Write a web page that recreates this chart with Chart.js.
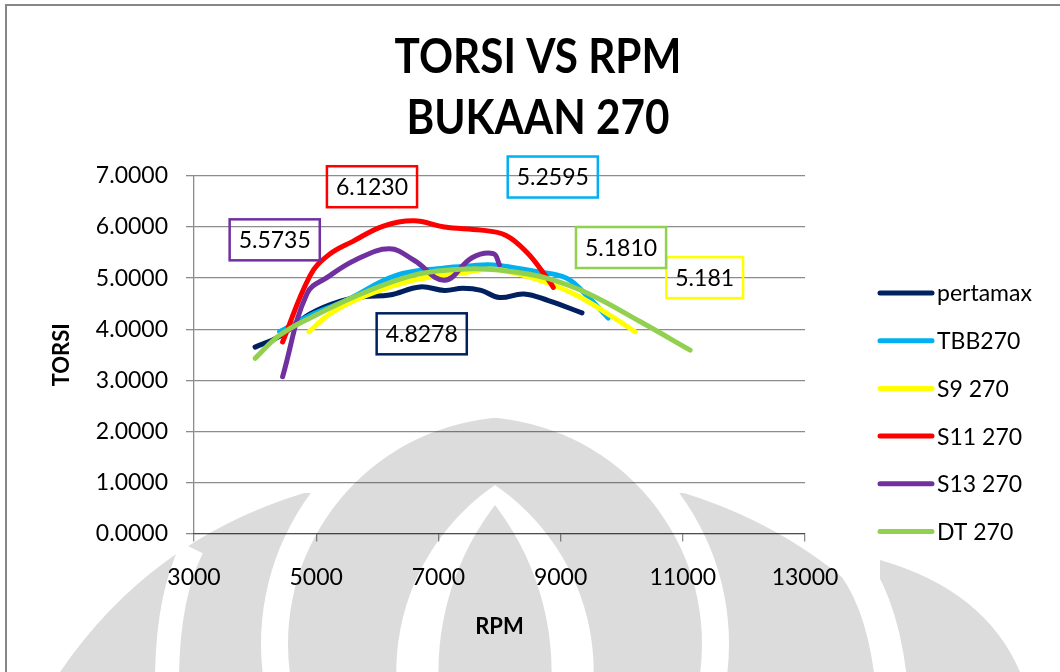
<!DOCTYPE html>
<html>
<head>
<meta charset="utf-8">
<title>Torsi vs RPM</title>
<script src="https://cdn.jsdelivr.net/npm/chart.js@4.4.1/dist/chart.umd.min.js"></script>
<style>
  html, body { margin: 0; padding: 0; background: #fff; }
  canvas { display: block; }
</style>
</head>
<body>
<canvas id="torsiChart" width="1060" height="672"></canvas>
<script>
// series names and colours
const seriesNames = ['pertamax', 'TBB270', 'S9 270', 'S11 270', 'S13 270', 'DT 270'];
const seriesColors = ['#002060', '#00B0F0', '#FFFF00', '#FF0000', '#7030A0', '#92D050'];

// measured torque (torsi) against engine speed (rpm)
const rpmPertamax = [4000, 4400, 4900, 5400, 5800, 6200, 6700, 7100, 7400, 7700, 8000, 8400, 8800, 9350];
const torsiPertamax = [3.65, 3.86, 4.30, 4.55, 4.64, 4.67, 4.8278, 4.76, 4.80, 4.76, 4.62, 4.69, 4.56, 4.32];

const rpmTBB = [4400, 4900, 5500, 6300, 7100, 7500, 7900, 8600, 9100, 9450, 9780];
const torsiTBB = [3.95, 4.27, 4.57, 5.05, 5.20, 5.24, 5.2595, 5.13, 5.00, 4.63, 4.22];

const rpmS9 = [4880, 5250, 5800, 6600, 7400, 7850, 8250, 8800, 9300, 9850, 10220];
const torsiS9 = [3.95, 4.32, 4.65, 4.96, 5.10, 5.181, 5.10, 4.90, 4.64, 4.24, 3.95];

const rpmS11 = [4450, 4900, 5200, 5600, 6100, 6600, 7100, 7700, 8100, 8450, 8750, 8880];
const torsiS11 = [3.75, 5.05, 5.45, 5.72, 6.02, 6.1230, 6.00, 5.94, 5.84, 5.50, 5.05, 4.82];

const rpmS13 = [4450, 4850, 5200, 5650, 6200, 6600, 7100, 7550, 7900, 8000];
const torsiS13 = [3.07, 4.70, 5.03, 5.36, 5.5735, 5.35, 4.96, 5.40, 5.48, 5.26];

const rpmDT = [4000, 4400, 4950, 5750, 6600, 7300, 7750, 8250, 8800, 9450, 10300, 11120];
const torsiDT = [3.43, 3.88, 4.25, 4.70, 5.06, 5.17, 5.1810, 5.12, 4.99, 4.70, 4.15, 3.59];

const rpmSeries = [rpmPertamax, rpmTBB, rpmS9, rpmS11, rpmS13, rpmDT];
const torsiSeries = [torsiPertamax, torsiTBB, torsiS9, torsiS11, torsiS13, torsiDT];

// peak value callouts: decimals shown and where each box sits (rpm, torsi)
const peakDecimals = [4, 4, 3, 4, 4, 4];
const peakBoxAt = [[6727, 3.91], [8872, 6.98], [11358, 5.01], [5913, 6.79], [4321, 5.75], [9989, 5.60]];

// axis ticks
const rpmTicks = [3000, 5000, 7000, 9000, 11000, 13000];
const torsiTicks = [0, 1, 2, 3, 4, 5, 6, 7];

const titleLines = ['TORSI VS RPM', 'BUKAAN 270'];

const FONT = 'Lato, "Open Sans", sans-serif';
const gridColor = 'rgba(0,0,0,0.45)';
const markGray = '#dcdcdc';

const datasets = seriesNames.map((name, i) => ({
    label: name,
    data: rpmSeries[i].map((r, k) => ({ x: r, y: torsiSeries[i][k] })),
    borderColor: seriesColors[i],
    backgroundColor: seriesColors[i],
    borderWidth: 5,
    borderCapStyle: 'round',
    borderJoinStyle: 'round',
    showLine: true,
    pointRadius: 0,
    tension: 0.4,
    order: seriesNames.length - i
}));

// lens = overlap of two equal discs mirrored about cx
function lens(c, cx, cy, d, r) {
    c.save();
    c.beginPath();
    c.arc(cx + d, cy, r, 0, Math.PI * 2);
    c.clip();
    c.beginPath();
    c.arc(cx - d, cy, r, 0, Math.PI * 2);
    c.fill();
    c.restore();
}

// faint emblem behind the plot
function drawEmblem(c) {
    const cx = 495;
    c.fillStyle = markGray;
    // wings
    c.beginPath();
    c.moveTo(304, 493);
    c.quadraticCurveTo(150, 540, 60, 672);
    c.lineTo(930, 672);
    c.quadraticCurveTo(836, 540, 684, 493);
    c.closePath();
    c.fill();
    // outer right piece
    c.beginPath();
    c.moveTo(880, 560);
    c.quadraticCurveTo(985, 590, 1020, 672);
    c.lineTo(880, 672);
    c.closePath();
    c.fill();

    // seams cut between the pieces
    c.strokeStyle = '#fff';
    c.lineWidth = 24;
    c.beginPath();
    c.moveTo(192, 548);
    c.quadraticCurveTo(166, 600, 167, 690);
    c.stroke();
    c.lineWidth = 32;
    c.beginPath();
    c.moveTo(846, 556);
    c.quadraticCurveTo(884, 600, 892, 690);
    c.stroke();

    c.fillStyle = '#fff';
    lens(c, cx, 643.9, 19.8, 253.8);
    c.fillStyle = markGray;
    lens(c, cx, 643.9, 19.8, 226.8);
    c.fillStyle = '#fff';
    lens(c, cx, 672, 127.7, 226.4);
    c.fillStyle = markGray;
    lens(c, cx, 672, 218, 274.6);
}

const backdrop = {
    id: 'backdrop',
    beforeDraw(chart) {
        const c = chart.ctx;
        c.save();
        c.fillStyle = '#fff';
        c.fillRect(0, 0, chart.width, chart.height);
        drawEmblem(c);
        c.restore();
    }
};

const overlay = {
    id: 'overlay',
    afterDraw(chart) {
        const c = chart.ctx;
        const xs = chart.scales.x, ys = chart.scales.y;
        c.save();

        // outer frame
        c.strokeStyle = '#878787';
        c.lineWidth = 2;
        c.strokeRect(6, 5, 1200, 900);

        // title, set in a narrow bold face
        c.fillStyle = '#000';
        c.textAlign = 'center';
        c.textBaseline = 'middle';
        c.font = 'bold 48px ' + FONT;
        titleLines.forEach((t, i) => {
            c.save();
            c.translate(538, 58 + i * 61);
            c.scale(0.88, 1);
            c.fillText(t, 0, 0);
            c.restore();
        });

        // peak callouts
        c.font = '23px ' + FONT;
        c.lineWidth = 2.5;
        seriesNames.forEach((name, i) => {
            const txt = Math.max(...torsiSeries[i]).toFixed(peakDecimals[i]);
            const px = xs.getPixelForValue(peakBoxAt[i][0]);
            const py = ys.getPixelForValue(peakBoxAt[i][1]);
            const w = c.measureText(txt).width + 18;
            const h = 41;
            c.strokeStyle = seriesColors[i];
            c.strokeRect(px - w / 2, py - h / 2, w, h);
            c.fillStyle = '#000';
            c.fillText(txt, px, py + 1);
        });

        // legend
        c.textAlign = 'left';
        c.lineCap = 'round';
        c.lineWidth = 5;
        seriesNames.forEach((name, i) => {
            const y = 293 + i * 47.7;
            c.strokeStyle = seriesColors[i];
            c.beginPath();
            c.moveTo(880, y);
            c.lineTo(932, y);
            c.stroke();
            c.fillStyle = '#000';
            c.fillText(name, 937, y + 1);
        });
        c.restore();
    }
};

new Chart(document.getElementById('torsiChart'), {
    type: 'scatter',
    data: { datasets },
    options: {
        responsive: false,
        devicePixelRatio: 1,
        animation: false,
        layout: { padding: { top: 176, right: 255, bottom: 0, left: 0 } },
        plugins: {
            legend: { display: false },
            tooltip: { enabled: false }
        },
        scales: {
            x: {
                type: 'linear',
                min: rpmTicks[0],
                max: rpmTicks[rpmTicks.length - 1],
                afterBuildTicks: s => { s.ticks = rpmTicks.map(v => ({ value: v })); },
                afterFit: s => { s.height = 138.5; },
                ticks: {
                    color: '#000',
                    padding: 22,
                    font: { family: FONT, size: 23 },
                    callback: v => String(v)
                },
                grid: { drawOnChartArea: false, drawTicks: true, tickLength: 8, color: gridColor, lineWidth: 1.3 },
                border: { color: gridColor, width: 1.3 },
                title: {
                    display: true,
                    text: 'RPM',
                    color: '#000',
                    font: { family: FONT, size: 22, weight: 'bold' },
                    padding: { top: 0, bottom: 32 }
                }
            },
            y: {
                min: torsiTicks[0],
                max: torsiTicks[torsiTicks.length - 1],
                afterBuildTicks: s => { s.ticks = torsiTicks.map(v => ({ value: v })); },
                afterFit: s => { s.width = 194; },
                ticks: {
                    color: '#000',
                    padding: 18,
                    font: { family: FONT, size: 23 },
                    callback: v => Number(v).toFixed(4)
                },
                grid: { drawTicks: true, tickLength: 8, color: gridColor, lineWidth: 1.3 },
                border: { color: gridColor, width: 1.3 },
                title: {
                    display: true,
                    text: 'TORSI',
                    color: '#000',
                    font: { family: FONT, size: 22, weight: 'bold' },
                    padding: { top: 49, bottom: 0 }
                }
            }
        }
    },
    plugins: [backdrop, overlay]
});
</script>
</body>
</html>
